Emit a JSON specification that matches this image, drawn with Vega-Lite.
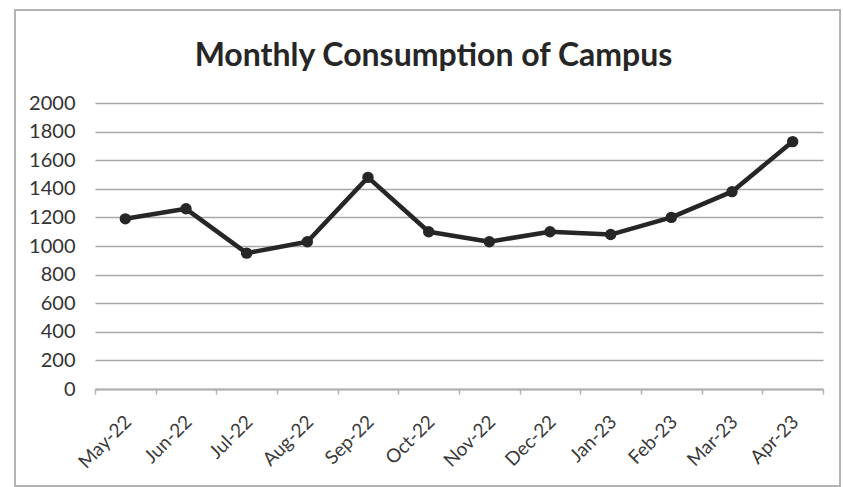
{
  "$schema": "https://vega.github.io/schema/vega-lite/v6.json",
  "autosize": "none",
  "width": 825,
  "height": 476,
  "padding": {"left": 15, "top": 10, "right": 3, "bottom": 1},
  "background": "white",
  "config": {
    "font": "Lato",
    "view": {"stroke": "#b4b4b4", "strokeWidth": 2}
  },
  "title": {
    "text": "Monthly Consumption of Campus",
    "font": "Lato",
    "fontSize": 32,
    "fontWeight": "bold",
    "color": "#262626",
    "anchor": "middle",
    "baseline": "alphabetic",
    "offset": -88,
    "dx": 6
  },
  "data": {
    "values": [
      {"month": "May-22", "consumption": 1190},
      {"month": "Jun-22", "consumption": 1260},
      {"month": "Jul-22", "consumption": 950},
      {"month": "Aug-22", "consumption": 1030},
      {"month": "Sep-22", "consumption": 1480},
      {"month": "Oct-22", "consumption": 1100},
      {"month": "Nov-22", "consumption": 1030},
      {"month": "Dec-22", "consumption": 1100},
      {"month": "Jan-23", "consumption": 1080},
      {"month": "Feb-23", "consumption": 1200},
      {"month": "Mar-23", "consumption": 1380},
      {"month": "Apr-23", "consumption": 1730}
    ]
  },
  "encoding": {
    "x": {
      "field": "month",
      "type": "nominal",
      "sort": null,
      "scale": {"type": "band", "range": [80, 808], "paddingInner": 0, "paddingOuter": 0},
      "axis": {
        "title": null,
        "offset": -97,
        "tickBand": "extent",
        "domainColor": "#b0b0b0",
        "domainWidth": 2,
        "tickColor": "#b0b0b0",
        "tickWidth": 1.5,
        "tickSize": 5,
        "grid": false,
        "labelAngle": -45,
        "labelFont": "Lato",
        "labelFontSize": 19,
        "labelColor": "#3a3a3a",
        "labelPadding": 18,
        "labelOffset": -4
      }
    },
    "y": {
      "field": "consumption",
      "type": "quantitative",
      "scale": {"domain": [0, 2000], "range": [379, 93], "nice": false, "zero": true},
      "axis": {
        "title": null,
        "offset": -80,
        "values": [0, 200, 400, 600, 800, 1000, 1200, 1400, 1600, 1800, 2000],
        "format": "d",
        "domain": false,
        "ticks": false,
        "labelPadding": 20,
        "labelFont": "Lato",
        "labelFontSize": 20,
        "labelColor": "#333333",
        "grid": true,
        "gridColor": "#a8a8a8",
        "gridWidth": 1.6
      }
    }
  },
  "layer": [
    {
      "mark": {"type": "line", "color": "#262626", "strokeWidth": 4.5, "strokeJoin": "round"}
    },
    {
      "mark": {"type": "point", "filled": true, "shape": "circle", "size": 130, "color": "#262626", "opacity": 1}
    }
  ]
}
